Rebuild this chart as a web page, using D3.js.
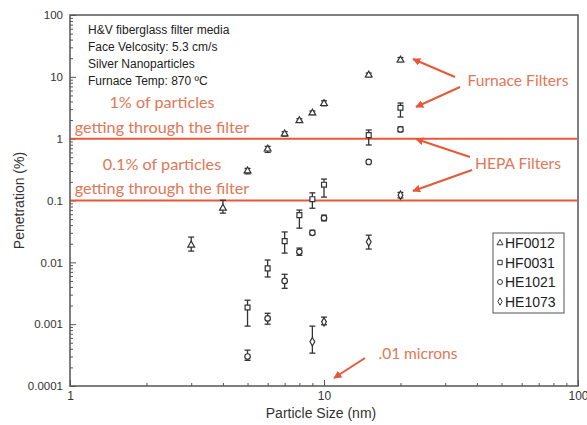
<!DOCTYPE html>
<html>
<head>
<meta charset="utf-8">
<script src="https://cdn.jsdelivr.net/npm/d3@7"></script>
<style>
  body { margin: 0; background: #fff; }
  svg { display: block; }
</style>
</head>
<body>
<svg id="chart" width="587" height="425"></svg>
<script>
// data
const hf0012Size = [3, 4, 5, 6, 7, 8, 9, 10, 15, 20];
const hf0012Pen  = [0.019, 0.075, 0.30, 0.68, 1.19, 1.95, 2.6, 3.7, 10.7, 18.7];
const hf0012Lo   = [0.0152, 0.0625, 0.27, 0.60, 1.10, 1.85, 2.45, 3.4, 10.0, 17.5];
const hf0012Hi   = [0.0256, 0.101, 0.33, 0.75, 1.30, 2.10, 2.8, 4.1, 11.5, 20.5];

const hf0031Size = [5, 6, 7, 8, 9, 10, 15, 20];
const hf0031Pen  = [0.00186, 0.008, 0.022, 0.058, 0.105, 0.18, 1.14, 3.16];
const hf0031Lo   = [0.00093, 0.0058, 0.0141, 0.0357, 0.075, 0.1135, 0.79, 2.24];
const hf0031Hi   = [0.00244, 0.0109, 0.031, 0.070, 0.133, 0.222, 1.38, 3.77];

const he1021Size = [5, 6, 7, 8, 9, 10, 15, 20];
const he1021Pen  = [0.0003, 0.00124, 0.005, 0.0148, 0.030, 0.052, 0.42, 1.41];
const he1021Lo   = [0.00026, 0.001, 0.0038, 0.013, 0.028, 0.047, 0.42, 1.30];
const he1021Hi   = [0.00038, 0.0015, 0.0064, 0.017, 0.033, 0.058, 0.42, 1.55];

const he1073Size = [9, 10, 15, 20];
const he1073Pen  = [0.00052, 0.00109, 0.0215, 0.122];
const he1073Lo   = [0.00034, 0.00098, 0.0164, 0.110];
const he1073Hi   = [0.00093, 0.0013, 0.0275, 0.135];

const seriesNames = ["HF0012", "HF0031", "HE1021", "HE1073"];
const yTickLabels = ["100", "10", "1", "0.1", "0.01", "0.001", "0.0001"];
const xTickLabels = ["1", "10", "100"];
const infoLines = ["H&V fiberglass filter media", "Face Velcosity: 5.3 cm/s",
                   "Silver Nanoparticles", "Furnace Temp: 870 \u00BAC"];

const svg = d3.select("#chart");
const plotL = 70, plotR = 578, plotT = 15, plotB = 386;
const red = "#e6583a", salmon = "#e27656", ink = "#333";

const x = d3.scaleLog().domain([1, 100]).range([plotL, plotR]);
const y = d3.scaleLog().domain([0.0001, 100]).range([plotB, plotT]);

// minor ticks
let xMinor = [], yMinor = [];
for (let d = 1; d <= 10; d *= 10) for (let k = 2; k <= 9; k++) xMinor.push(k * d);
for (let d = 0.0001; d <= 10; d *= 10) for (let k = 2; k <= 9; k++) yMinor.push(+(k * d).toPrecision(3));

const axisColor = "#555";

svg.append("g")
  .attr("transform", `translate(0,${plotB})`)
  .call(d3.axisBottom(x).tickValues(xMinor).tickSize(-3).tickFormat(""))
  .call(g => g.select(".domain").remove())
  .call(g => g.selectAll("line").attr("stroke", axisColor));

svg.append("g")
  .attr("transform", `translate(0,${plotB})`)
  .call(d3.axisBottom(x).tickValues([1, 10, 100]).tickSize(-6).tickPadding(5)
    .tickFormat((d, i) => xTickLabels[i]))
  .call(g => g.select(".domain").remove())
  .call(g => g.selectAll("line").attr("stroke", axisColor))
  .call(g => g.selectAll("text").attr("font-family", "Liberation Sans, Arial, sans-serif")
    .attr("font-size", 12).attr("fill", "#333"));

svg.append("g")
  .attr("transform", `translate(${plotL},0)`)
  .call(d3.axisLeft(y).tickValues(yMinor).tickSize(-3).tickFormat(""))
  .call(g => g.select(".domain").remove())
  .call(g => g.selectAll("line").attr("stroke", axisColor));

svg.append("g")
  .attr("transform", `translate(${plotL},0)`)
  .call(d3.axisLeft(y).tickValues([100, 10, 1, 0.1, 0.01, 0.001, 0.0001]).tickSize(-6).tickPadding(7)
    .tickFormat((d, i) => yTickLabels[i]))
  .call(g => g.select(".domain").remove())
  .call(g => g.selectAll("line").attr("stroke", axisColor))
  .call(g => g.selectAll("text").attr("font-family", "Liberation Sans, Arial, sans-serif")
    .attr("font-size", 11.5).attr("fill", "#333"));

// frame
svg.append("rect")
  .attr("x", plotL).attr("y", plotT)
  .attr("width", plotR - plotL).attr("height", plotB - plotT)
  .attr("fill", "none").attr("stroke", axisColor).attr("stroke-width", 1.5);

// axis titles
svg.append("text")
  .attr("x", (plotL + plotR) / 2 - 3).attr("y", 418)
  .attr("text-anchor", "middle")
  .attr("font-family", "Liberation Sans, Arial, sans-serif").attr("font-size", 14).attr("fill", "#333")
  .text("Particle Size (nm)");

svg.append("text")
  .attr("transform", `translate(24,${(plotT + plotB) / 2}) rotate(-90)`)
  .attr("text-anchor", "middle")
  .attr("font-family", "Liberation Sans, Arial, sans-serif").attr("font-size", 14).attr("fill", "#333")
  .text("Penetration (%)");

// info text
svg.append("g").selectAll("text").data(infoLines).join("text")
  .attr("x", 88).attr("y", (d, i) => 34 + i * 17)
  .attr("font-family", "Liberation Sans, Arial, sans-serif").attr("font-size", 12).attr("fill", "#222")
  .text(d => d);

// threshold lines
svg.append("g").selectAll("line").data([1, 0.1]).join("line")
  .attr("x1", plotL + 1).attr("x2", plotR - 1)
  .attr("y1", d => y(d)).attr("y2", d => y(d))
  .attr("stroke", red).attr("stroke-width", 2);

// annotation text
const notes = [
  { t: "1% of particles", x: 162, y: 108, s: 16.2 },
  { t: "getting through the filter", x: 162, y: 133, s: 16.2 },
  { t: "0.1% of particles", x: 162, y: 170, s: 16.2 },
  { t: "getting through the filter", x: 162, y: 194, s: 16.2 },
  { t: "Furnace Filters", x: 518, y: 86, s: 15.6 },
  { t: "HEPA Filters", x: 518, y: 169, s: 15.6 },
  { t: ".01 microns", x: 418, y: 359, s: 15.5 }
];
svg.append("g").selectAll("text").data(notes).join("text")
  .attr("x", d => d.x).attr("y", d => d.y).attr("text-anchor", "middle")
  .attr("font-family", "Lato, sans-serif").attr("font-size", d => d.s).attr("fill", salmon)
  .text(d => d.t);

// arrows
svg.append("defs").append("marker")
  .attr("id", "head").attr("viewBox", "0 0 10 10")
  .attr("refX", 9).attr("refY", 5)
  .attr("markerWidth", 4).attr("markerHeight", 4).attr("orient", "auto")
  .append("path").attr("d", "M0,0L10,5L0,10z").attr("fill", red);

const arrows = [
  [455, 77, 413, 59], [460, 87, 416, 107],
  [470, 157, 416, 139], [472, 170, 413, 191],
  [365, 358, 334, 378]
];
svg.append("g").selectAll("line").data(arrows).join("line")
  .attr("x1", d => d[0]).attr("y1", d => d[1]).attr("x2", d => d[2]).attr("y2", d => d[3])
  .attr("stroke", red).attr("stroke-width", 2).attr("marker-end", "url(#head)");

// series
const series = [
  { name: seriesNames[0], sym: d3.symbolTriangle, size: 20, xs: hf0012Size, ys: hf0012Pen, lo: hf0012Lo, hi: hf0012Hi },
  { name: seriesNames[1], sym: d3.symbolSquare, size: 24, xs: hf0031Size, ys: hf0031Pen, lo: hf0031Lo, hi: hf0031Hi },
  { name: seriesNames[2], sym: d3.symbolCircle, size: 24, xs: he1021Size, ys: he1021Pen, lo: he1021Lo, hi: he1021Hi },
  { name: seriesNames[3], sym: d3.symbolDiamond, size: 20, xs: he1073Size, ys: he1073Pen, lo: he1073Lo, hi: he1073Hi }
];

series.forEach(s => {
  const pts = s.xs.map((v, i) => ({ x: v, y: s.ys[i], lo: s.lo[i], hi: s.hi[i] }));
  const g = svg.append("g");
  const eb = g.selectAll("g.eb").data(pts).join("g").attr("class", "eb")
    .attr("stroke", ink).attr("stroke-width", 1.3);
  eb.append("line")
    .attr("x1", d => x(d.x)).attr("x2", d => x(d.x))
    .attr("y1", d => y(d.lo)).attr("y2", d => y(d.hi));
  eb.filter(d => d.hi > d.lo).append("line")
    .attr("x1", d => x(d.x) - 3).attr("x2", d => x(d.x) + 3)
    .attr("y1", d => y(d.lo)).attr("y2", d => y(d.lo));
  eb.filter(d => d.hi > d.lo).append("line")
    .attr("x1", d => x(d.x) - 3).attr("x2", d => x(d.x) + 3)
    .attr("y1", d => y(d.hi)).attr("y2", d => y(d.hi));
  g.selectAll("path").data(pts).join("path")
    .attr("d", d3.symbol().type(s.sym).size(s.size))
    .attr("transform", d => `translate(${x(d.x)},${y(d.y)})`)
    .attr("fill", "#fff").attr("stroke", ink).attr("stroke-width", 1.2);
});

// legend
const lg = svg.append("g").attr("transform", "translate(493,233)");
lg.append("rect").attr("width", 71).attr("height", 80)
  .attr("fill", "#fff").attr("stroke", "#555").attr("stroke-width", 1);
const items = lg.selectAll("g").data(series).join("g")
  .attr("transform", (d, i) => `translate(0,${10 + i * 19.5})`);
items.append("path")
  .attr("d", d => d3.symbol().type(d.sym).size(d.size * 0.8)())
  .attr("transform", "translate(7,0)")
  .attr("fill", "none").attr("stroke", ink).attr("stroke-width", 1);
items.append("text")
  .attr("x", 12).attr("y", 5)
  .attr("font-family", "Liberation Sans, Arial, sans-serif").attr("font-size", 14).attr("fill", "#222")
  .text(d => d.name);
</script>
</body>
</html>
